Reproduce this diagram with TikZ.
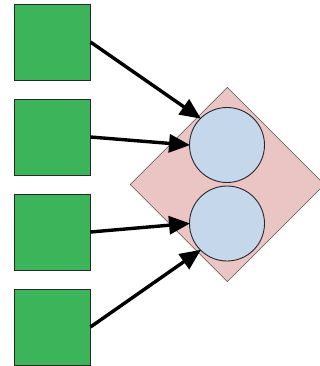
\documentclass[tikz,border=0pt]{standalone}
\usetikzlibrary{arrows.meta,shapes.geometric}
\definecolor{sqgreen}{RGB}{60,181,90}
\definecolor{dmpink}{RGB}{235,196,196}
\definecolor{cblue}{RGB}{197,215,234}
\definecolor{edge}{RGB}{40,40,40}
\begin{document}
\begin{tikzpicture}[x=1pt,y=-1pt,
  sq/.style={draw=edge,line width=0.9pt,fill=sqgreen,minimum size=76pt,inner sep=0pt},
  dm/.style={diamond,aspect=1,draw=edge!80,line width=0.6pt,fill=dmpink,minimum width=194.5pt,minimum height=194.5pt,inner sep=0pt},
  cc/.style={circle,draw=edge,line width=0.9pt,fill=cblue,minimum size=75pt,inner sep=0pt},
  arr/.style={line width=3.4pt,-{Triangle[length=21pt,width=18pt]},shorten >=-1pt}]
\useasboundingbox (0,0) rectangle (320,366);
\clip (0,0) rectangle (320,366);
\node[sq] (s1) at (52,42) {};
\node[sq] (s2) at (52,137) {};
\node[sq] (s3) at (52,232) {};
\node[sq] (s4) at (52,327) {};
\node[dm] (d) at (227.3,184.5) {};
\node[cc] (c1) at (227,145) {};
\node[cc] (c2) at (227,223.5) {};
\draw[arr] (s1.east) -- (c1.135);
\draw[arr] (s2.east) -- (c1.west);
\draw[arr] (s3.east) -- (c2.west);
\draw[arr] (s4.east) -- (c2.225);
\end{tikzpicture}
\end{document}
